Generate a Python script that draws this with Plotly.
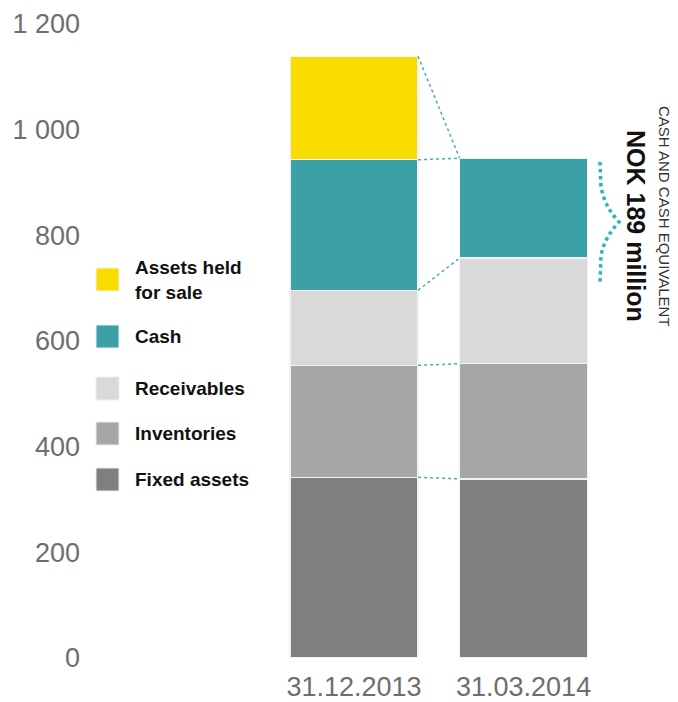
import plotly.graph_objects as go

categories = ["31.12.2013", "31.03.2014"]
series_names = ["Fixed assets", "Inventories", "Receivables", "Cash", "Assets held for sale"]
fixed_assets = [342, 339]
inventories = [212, 218]
receivables = [142, 200]
cash = [247, 189]
assets_held = [196, 0]
colors = ["#7F7F7F", "#A6A6A6", "#D9D9D9", "#3BA1A6", "#F9DC00"]
legend_labels = ["Assets held<br>for sale", "Cash", "Receivables", "Inventories", "Fixed assets"]
y_ticks = [0, 200, 400, 600, 800, 1000, 1200]
y_ticklabels = ["0", "200", "400", "600", "800", "1 000", "1 200"]

# page has an 8px body margin; size the figure to fit the window
OFF = 8
W, H = 670, 694
ML, MR, MT, MB = 73, 0, 10, 44
PW, PH = W - ML - MR, H - MT - MB
PL = ML + OFF            # plot left in page px
PB = H - MB + OFF        # plot bottom in page px
XR = [-1.611, 1.911]
YR = [0, 1211.4]
BW = 0.755
FONT = "Arial, Liberation Sans, sans-serif"

def px_x(p):
    return (p - PL) / PW

def px_y(p):
    return (PB - p) / PH

def dx(p):
    return XR[0] + (p - PL) / PW * (XR[1] - XR[0])

def dy(p):
    return YR[0] + (PB - p) / PH * (YR[1] - YR[0])

series = [fixed_assets, inventories, receivables, cash, assets_held]
xs = list(range(len(categories)))

fig = go.Figure()
for name, vals, col in zip(series_names, series, colors):
    fig.add_trace(go.Bar(
        x=xs, y=vals, name=name, width=BW,
        marker=dict(color=col, line=dict(color="#F2F2F2", width=1.2)),
        showlegend=False, hoverinfo="skip",
    ))

# connector lines between the two bars
cum = []
for i in range(len(categories)):
    s = 0
    c = []
    for vals in series:
        s += vals[i]
        c.append(s)
    cum.append(c)
x_from = xs[0] + BW / 2
x_to = xs[1] - BW / 2
n_seg = len(series)
for k in range(n_seg):
    y0 = cum[0][k]
    y1 = cum[1][min(k, n_seg - 2)]
    fig.add_shape(type="line", x0=x_from, x1=x_to, y0=y0, y1=y1,
                  line=dict(color="#4AABB5", width=1.5, dash="dot"))

# brace
path = "M {} {} L {} {} Q {} {} {} {} Q {} {} {} {} L {} {}".format(
    dx(600), dy(162), dx(601), dy(186),
    dx(604), dy(206), dx(619), dy(222),
    dx(604), dy(238), dx(601), dy(256),
    dx(600), dy(283))
fig.add_shape(type="path", path=path, line=dict(color="#2BB5BE", width=3.5, dash="dot"))

# legend (manual)
leg_rows = [(268, 291), (325, 348), (377, 400), (422, 445), (468, 491)]
leg_colors = colors[::-1]
for (t, b), col, lab in zip(leg_rows, leg_colors, legend_labels):
    fig.add_shape(type="rect", xref="paper", yref="paper",
                  x0=px_x(96), x1=px_x(119), y0=px_y(b), y1=px_y(t),
                  fillcolor=col, line=dict(color="#EEEEEE", width=1))
    cy = (t + b) / 2
    if "<br>" in lab:
        cy = 280
    fig.add_annotation(xref="paper", yref="paper", x=px_x(133), y=px_y(cy),
                       text="<b>" + lab + "</b>", showarrow=False,
                       xanchor="left", yanchor="middle", align="left",
                       font=dict(family=FONT, size=19, color="#111111"))

# rotated annotation text
fig.add_annotation(xref="paper", yref="paper", x=px_x(636), y=px_y(226),
                   text="<b>NOK 189 million</b>", textangle=90, showarrow=False,
                   xanchor="center", yanchor="middle",
                   font=dict(family=FONT, size=25, color="#111111"))
fig.add_annotation(xref="paper", yref="paper", x=px_x(664), y=px_y(216),
                   text="CASH AND CASH EQUIVALENT", textangle=90, showarrow=False,
                   xanchor="center", yanchor="middle",
                   font=dict(family=FONT, size=15, color="#333333"))

fig.update_layout(
    barmode="stack", width=W, height=H,
    margin=dict(l=ML, r=MR, t=MT, b=MB, pad=0),
    plot_bgcolor="white", paper_bgcolor="white",
    font=dict(family=FONT),
    xaxis=dict(range=XR, tickvals=xs, ticktext=categories, showgrid=False,
               zeroline=False, showline=False, ticks="", ticklabelstandoff=10,
               tickfont=dict(family=FONT, size=27, color="#6E6E6E")),
    yaxis=dict(range=YR, tickvals=y_ticks, ticktext=y_ticklabels, showgrid=False,
               zeroline=False, showline=False, ticks="",
               tickfont=dict(family=FONT, size=27, color="#6E6E6E")),
)

fig.write_html("out.html")
